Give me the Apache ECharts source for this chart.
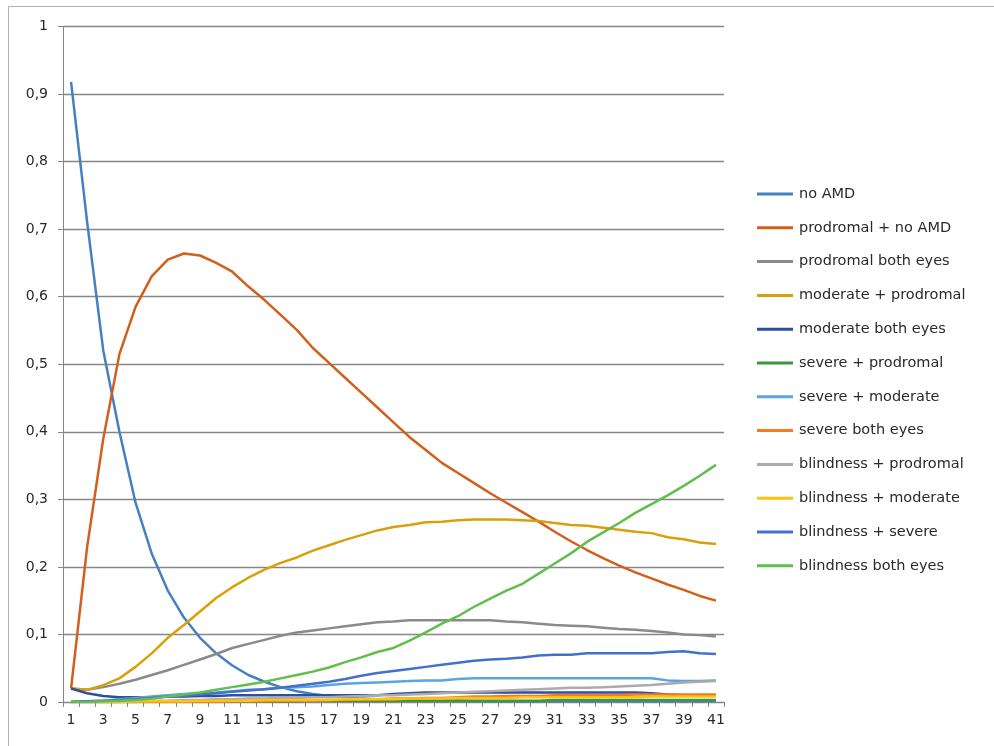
<!DOCTYPE html>
<html>
<head>
<meta charset="utf-8">
<script src="https://cdn.jsdelivr.net/npm/echarts@6/dist/echarts.min.js"></script>
<style>
html,body{margin:0;padding:0;background:#fff;}
#chart{width:994px;height:746px;}
</style>
</head>
<body>
<div id="chart"></div>
<script>
const categories = ['1','2','3','4','5','6','7','8','9','10','11','12','13','14','15','16','17','18','19','20','21','22','23','24','25','26','27','28','29','30','31','32','33','34','35','36','37','38','39','40','41'];

const seriesNames = ['no AMD','prodromal + no AMD','prodromal both eyes','moderate + prodromal','moderate both eyes','severe + prodromal','severe + moderate','severe both eyes','blindness + prodromal','blindness + moderate','blindness + severe','blindness both eyes'];

const seriesColors = ['#4581C0','#D2601C','#8A8A8A','#D9A00A','#2E4E9E','#3C963C','#5BA4E2','#F57A22','#ABABAB','#FFC20E','#4470CC','#62BE4C'];

const noAMD = [0.918,0.71,0.52,0.40,0.295,0.22,0.165,0.125,0.095,0.072,0.054,0.04,0.03,0.022,0.016,0.012,0.009,0.007,0.005,0.004,0.003,0.003,0.002,0.002,0.002,0.001,0.001,0.001,0.001,0.001,0.001,0.001,0.001,0.001,0.001,0.001,0.001,0.001,0.001,0.001,0.001];

const prodromalNoAMD = [0.02,0.23,0.39,0.515,0.585,0.63,0.655,0.664,0.661,0.65,0.637,0.615,0.595,0.573,0.551,0.524,0.502,0.48,0.458,0.436,0.414,0.392,0.373,0.354,0.339,0.324,0.309,0.295,0.281,0.267,0.252,0.238,0.225,0.213,0.202,0.192,0.183,0.174,0.166,0.157,0.15];

const prodromalBoth = [0.02,0.018,0.022,0.027,0.033,0.04,0.047,0.055,0.063,0.071,0.08,0.086,0.092,0.098,0.103,0.106,0.109,0.112,0.115,0.118,0.119,0.121,0.121,0.121,0.121,0.121,0.121,0.119,0.118,0.116,0.114,0.113,0.112,0.110,0.108,0.107,0.105,0.103,0.100,0.099,0.097];

const moderateProdromal = [0.02,0.018,0.025,0.035,0.052,0.072,0.095,0.114,0.134,0.154,0.17,0.184,0.196,0.206,0.214,0.224,0.232,0.24,0.247,0.254,0.259,0.262,0.266,0.267,0.269,0.27,0.27,0.27,0.269,0.268,0.265,0.262,0.261,0.258,0.255,0.252,0.25,0.244,0.241,0.236,0.234];

const moderateBoth = [0.02,0.013,0.009,0.007,0.007,0.007,0.008,0.008,0.009,0.009,0.01,0.01,0.01,0.01,0.01,0.01,0.01,0.01,0.01,0.01,0.012,0.013,0.014,0.014,0.014,0.014,0.014,0.014,0.014,0.014,0.014,0.014,0.014,0.014,0.014,0.014,0.013,0.011,0.01,0.01,0.01];

const severeProdromal = [0,0,0,0,0,0.001,0.001,0.001,0.001,0.001,0.001,0.001,0.001,0.001,0.001,0.002,0.002,0.002,0.002,0.002,0.002,0.002,0.002,0.002,0.002,0.002,0.002,0.002,0.002,0.002,0.003,0.003,0.003,0.003,0.003,0.003,0.003,0.003,0.003,0.003,0.003];

const severeModerate = [0,0.001,0.002,0.004,0.006,0.008,0.01,0.012,0.013,0.014,0.016,0.018,0.019,0.021,0.022,0.023,0.025,0.027,0.028,0.029,0.03,0.031,0.032,0.032,0.034,0.035,0.035,0.035,0.035,0.035,0.035,0.035,0.035,0.035,0.035,0.035,0.035,0.032,0.031,0.031,0.032];

const severeBoth = [0,0,0,0,0,0,0,0,0,0,0.001,0.001,0.001,0.002,0.002,0.002,0.003,0.003,0.004,0.004,0.005,0.005,0.006,0.006,0.007,0.008,0.008,0.009,0.009,0.009,0.01,0.01,0.01,0.01,0.01,0.011,0.011,0.011,0.011,0.011,0.011];

const blindnessProdromal = [0,0.001,0.001,0.001,0.001,0.002,0.002,0.003,0.003,0.004,0.004,0.005,0.005,0.006,0.006,0.007,0.007,0.008,0.009,0.01,0.01,0.011,0.012,0.013,0.014,0.015,0.016,0.017,0.018,0.019,0.02,0.021,0.021,0.022,0.023,0.024,0.025,0.027,0.029,0.03,0.031];

const blindnessModerate = [0,0,0,0,0.001,0.001,0.001,0.001,0.002,0.002,0.002,0.002,0.003,0.003,0.003,0.003,0.003,0.004,0.004,0.004,0.004,0.005,0.005,0.005,0.006,0.006,0.006,0.006,0.007,0.007,0.007,0.007,0.007,0.007,0.007,0.007,0.008,0.008,0.008,0.008,0.008];

const blindnessSevere = [0,0.001,0.002,0.003,0.004,0.006,0.008,0.009,0.011,0.013,0.015,0.017,0.019,0.021,0.024,0.027,0.03,0.034,0.039,0.043,0.046,0.049,0.052,0.055,0.058,0.061,0.063,0.064,0.066,0.069,0.07,0.07,0.072,0.072,0.072,0.072,0.072,0.074,0.075,0.072,0.071];

const blindnessBoth = [0,0,0.001,0.002,0.003,0.005,0.008,0.011,0.014,0.018,0.022,0.026,0.03,0.035,0.04,0.045,0.051,0.059,0.066,0.074,0.08,0.091,0.103,0.116,0.127,0.141,0.153,0.165,0.175,0.19,0.205,0.22,0.237,0.251,0.265,0.28,0.293,0.306,0.32,0.335,0.351];

const yTicks = [0,0.1,0.2,0.3,0.4,0.5,0.6,0.7,0.8,0.9,1];

const allData = [noAMD, prodromalNoAMD, prodromalBoth, moderateProdromal, moderateBoth, severeProdromal, severeModerate, severeBoth, blindnessProdromal, blindnessModerate, blindnessSevere, blindnessBoth];

const FONT = '"DejaVu Sans", sans-serif';
const GRID_COLOR = '#868686';
const chart = echarts.init(document.getElementById('chart'), null, {renderer: 'canvas'});

chart.setOption({
  animation: false,
  backgroundColor: '#fff',
  graphic: [{
    type: 'rect',
    shape: {x: 8.5, y: 6.5, width: 1000, height: 800},
    style: {fill: 'none', stroke: '#b0b0b0', lineWidth: 1},
    silent: true,
    z: -10
  }],
  grid: {left: 63, right: 270, top: 26.5, bottom: 44},
  legend: {
    orient: 'vertical',
    left: 757,
    top: 186,
    padding: 0,
    icon: 'rect',
    itemWidth: 36,
    itemHeight: 3,
    itemGap: 17.8,
    textStyle: {fontFamily: FONT, fontSize: 14.5, color: '#2a2a2a', lineHeight: 16, padding: [0, 0, 0, 1]},
    data: seriesNames
  },
  xAxis: {
    type: 'category',
    data: categories,
    boundaryGap: true,
    axisLine: {lineStyle: {color: GRID_COLOR, width: 1}},
    axisTick: {show: true, interval: 0, length: 5, lineStyle: {color: GRID_COLOR}},
    axisLabel: {interval: 1, margin: 11, fontFamily: FONT, fontSize: 14, color: '#2a2a2a'},
    splitLine: {show: false}
  },
  yAxis: {
    type: 'value',
    min: 0,
    max: 1,
    interval: 0.1,
    axisLine: {show: true, lineStyle: {color: GRID_COLOR, width: 1}},
    axisTick: {show: true, length: 5, lineStyle: {color: GRID_COLOR}},
    axisLabel: {
      margin: 15, fontFamily: FONT, fontSize: 14, color: '#2a2a2a',
      formatter: function (v) {
        const t = yTicks.find(x => Math.abs(x - v) < 1e-9);
        return String(Math.round((t !== undefined ? t : v) * 10) / 10).replace('.', ',');
      }
    },
    splitLine: {show: true, lineStyle: {color: GRID_COLOR, width: 1.3}}
  },
  series: seriesNames.map((name, i) => ({
    name: name,
    type: 'line',
    data: allData[i],
    symbol: 'none',
    showSymbol: false,
    smooth: false,
    color: seriesColors[i],
    lineStyle: {width: 2.5, color: seriesColors[i]}
  }))
});
</script>
</body>
</html>
